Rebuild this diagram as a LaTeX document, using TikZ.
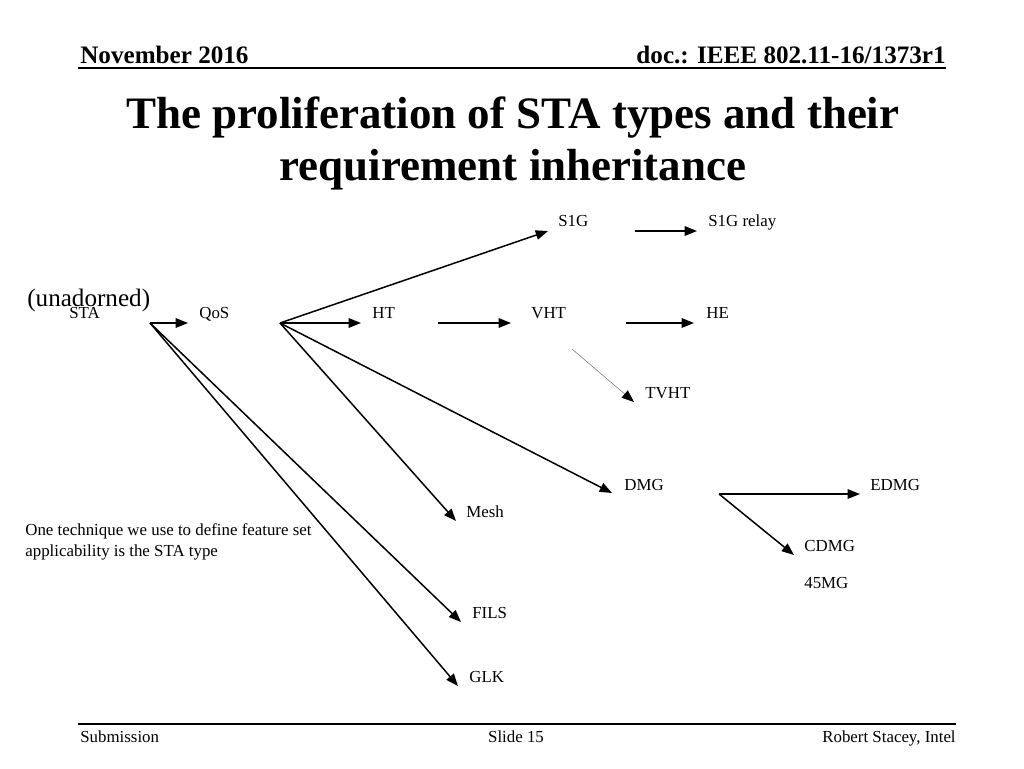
\documentclass[tikz,border=0pt]{standalone}
\usepackage{fontspec}
\setmainfont{Liberation Serif}
\usetikzlibrary{arrows.meta}
\tikzset{
	lbl/.style={anchor=base west, inner sep=0pt, font=\fontsize{9.6}{11.5}\selectfont},
	hdr/.style={inner sep=0pt, font=\bfseries\fontsize{14.3}{17}\selectfont},
	ttl/.style={anchor=base, inner sep=0pt, font=\bfseries\fontsize{25.6}{30}\selectfont},
	arr/.style={line width=0.85pt, -{Triangle[length=7pt,width=5.4pt]}},
}

\begin{document}
\begin{tikzpicture}[x=0.02cm, y=-0.02cm]
			%%%%% START %%%%%
			\useasboundingbox (0, 0) rectangle (1024, 768);
			
			\node[hdr, anchor=base west] (date) at (80, 63) {November 2016};
			\node[hdr, anchor=base east] (docno) at (946, 63) {doc.: IEEE 802.11-16/1373r1};
			\draw[line width=1pt] (78, 68) -- (946, 68);
			
			\node[ttl] (title1) at (513, 128) {The proliferation of STA types and their};
			\node[ttl] (title2) at (513, 180) {requirement inheritance};
			
			\node[anchor=base west, inner sep=0pt, font=\fontsize{14.3}{17}\selectfont] (unadorned) at (27, 306) {(unadorned)};
			\node[lbl] (sta) at (69, 318) {STA};
			\node[lbl] (qos) at (199, 318) {QoS};
			\node[lbl] (ht) at (372, 318) {HT};
			\node[lbl] (vht) at (531, 318) {VHT};
			\node[lbl] (he) at (706, 318) {HE};
			\node[lbl] (s1g) at (558, 226) {S1G};
			\node[lbl] (s1grelay) at (708, 226) {S1G relay};
			\node[lbl] (tvht) at (645, 398) {TVHT};
			\node[lbl] (dmg) at (624, 490) {DMG};
			\node[lbl] (edmg) at (870, 490) {EDMG};
			\node[lbl] (cdmg) at (804, 551) {CDMG};
			\node[lbl] (mg45) at (804, 588) {45MG};
			\node[lbl] (mesh) at (466, 517) {Mesh};
			\node[lbl] (fils) at (472, 618) {FILS};
			\node[lbl] (glk) at (469, 682) {GLK};
			
			\node[lbl] (note1) at (25, 535) {One technique we use to define feature set};
			\node[lbl] (note2) at (25, 556) {applicability is the STA type};
			
			% arrow ends
			\coordinate (staout) at (150, 323);
			\coordinate (qosin) at (188, 323);
			\coordinate (qosout) at (280, 323);
			\coordinate (htin) at (361, 323);
			\coordinate (htout) at (438, 323);
			\coordinate (vhtin) at (511, 323);
			\coordinate (vhtout) at (626, 323);
			\coordinate (hein) at (694, 323);
			\coordinate (s1gin) at (548, 231);
			\coordinate (s1gout) at (635, 231);
			\coordinate (relayin) at (697, 231);
			\coordinate (vhtdown) at (572, 349);
			\coordinate (tvhtin) at (634, 402);
			\coordinate (meshin) at (456, 521);
			\coordinate (dmgin) at (612, 493);
			\coordinate (dmgout) at (719, 494);
			\coordinate (edmgin) at (860, 494);
			\coordinate (cdmgin) at (794, 555);
			\coordinate (filsin) at (461, 622);
			\coordinate (glkin) at (458, 686);
			
			\draw[arr] (staout) -- (qosin);
			\draw[arr] (staout) -- (filsin);
			\draw[arr] (staout) -- (glkin);
			\draw[arr] (qosout) -- (htin);
			\draw[arr] (qosout) -- (s1gin);
			\draw[arr] (qosout) -- (meshin);
			\draw[arr] (qosout) -- (dmgin);
			\draw[arr] (htout) -- (vhtin);
			\draw[arr] (vhtout) -- (hein);
			\draw[arr] (s1gout) -- (relayin);
			\draw[line width=0.3pt, color=black!55, -{Triangle[length=7pt,width=5.4pt,color=black]}] (vhtdown) -- (tvhtin);
			\draw[arr] (dmgout) -- (edmgin);
			\draw[arr] (dmgout) -- (cdmgin);
			
			\draw[line width=1pt] (78, 724) -- (956, 724);
			\node[lbl] (sub) at (80, 742) {Submission};
			\node[lbl, anchor=base] (slide) at (516, 742) {Slide 15};
			\node[lbl, anchor=base east] (author) at (956, 742) {Robert Stacey, Intel};
			
			%%%%% END %%%%%
\end{tikzpicture}
\end{document}
